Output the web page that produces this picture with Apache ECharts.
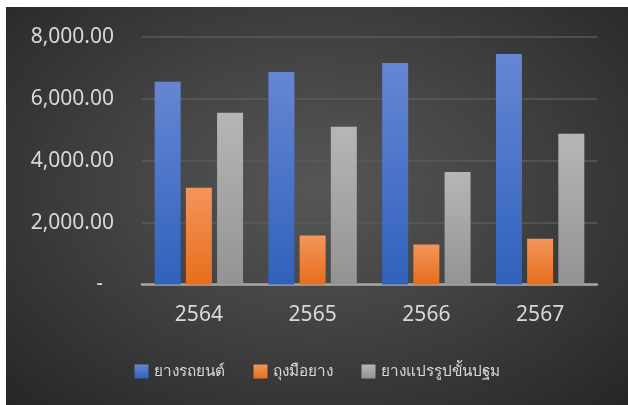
<!DOCTYPE html>
<html><head><meta charset="utf-8">
<script src="https://cdn.jsdelivr.net/npm/echarts@6/dist/echarts.min.js"></script>
<style>
html,body{margin:0;padding:0;background:#fff;width:628px;height:405px;overflow:hidden;}
#c{position:absolute;left:6px;top:7px;width:622px;height:398px;
background:radial-gradient(ellipse at 50% 45%, #565656 0%, #454545 40%, #2e2e2e 85%, #262626 100%);}
</style></head>
<body><div id="c"></div>
<script>
const categories = ['2564','2565','2566','2567'];
const seriesNames = ['ยางรถยนต์','ถุงมือยาง','ยางแปรรูปขั้นปฐม'];
const carTyres = [6550, 6870, 7160, 7450];
const gloves = [3130, 1580, 1290, 1480];
const primaryRubber = [5550, 5100, 3640, 4870];
const yTicks = [0, 2000, 4000, 6000, 8000];

const font = '"Segoe UI","Noto Sans","Open Sans",sans-serif';
function grad(top, bottom){
  return {type:'linear',x:0,y:0,x2:0,y2:1,colorStops:[{offset:0,color:top},{offset:1,color:bottom}]};
}
const chart = echarts.init(document.getElementById('c'), null, {renderer:'canvas'});
chart.setOption({
  backgroundColor:'transparent',
  animation:false,
  grid:{left:136,right:31,top:30,bottom:120.5,containLabel:false},
  legend:{
    data:seriesNames, bottom:21, left:'center', itemWidth:14, itemHeight:14, itemGap:29,
    icon:'rect',
    textStyle:{color:'#d9d9d9', fontSize:15.3, fontFamily:font}
  },
  xAxis:{
    type:'category', data:categories,
    axisLine:{lineStyle:{color:'#a6a6a6', width:2.5}},
    axisTick:{show:false},
    axisLabel:{color:'#d9d9d9', fontSize:21, fontFamily:font, margin:20}
  },
  yAxis:{
    type:'value', min:yTicks[0], max:yTicks[yTicks.length-1], interval:2000,
    axisLine:{show:false}, axisTick:{show:false},
    splitLine:{lineStyle:{color:'#5a5a5a', width:1.5}},
    axisLabel:{color:'#d9d9d9', fontSize:21, fontFamily:font, margin:28,
      formatter:function(v){
        if(v===0) return '{z|-}';
        return v.toLocaleString('en-US',{minimumFractionDigits:2,maximumFractionDigits:2});
      },
      rich:{z:{color:'#d9d9d9', fontSize:21, fontFamily:font, padding:[0,11,0,0]}}
    }
  },
  series:[
    {name:seriesNames[0], type:'bar', data:carTyres, barWidth:26, barGap:'20%',
     itemStyle:{color:grad('#6686d3','#2f62bd')}, z:1},
    {name:seriesNames[1], type:'bar', data:gloves, barWidth:26, barGap:'20%',
     itemStyle:{color:grad('#f3955c','#e76e1b')}, z:1},
    {name:seriesNames[2], type:'bar', data:primaryRubber, barWidth:26, barGap:'20%',
     itemStyle:{color:grad('#b6b6b6','#939393')}, z:1}
  ]
});
</script></body></html>
